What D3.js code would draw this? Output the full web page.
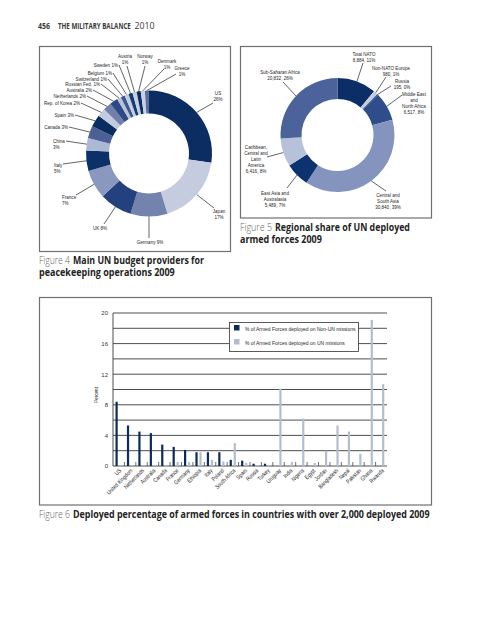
<!DOCTYPE html>
<html><head><meta charset="utf-8">
<script src="https://cdn.jsdelivr.net/npm/d3@7"></script>
<style>body{margin:0;background:#fff}</style>
</head><body><svg id="c" width="486" height="640"></svg>
<script>
// ---------- DATA ----------
const budgetCountries = ["US","Japan","Germany","UK","France","Italy","China","Canada","Spain","Rep. of Korea","Netherlands","Australia","Russian Fed.","Switzerland","Belgium","Sweden","Austria","Norway","Denmark","Greece"];
const budgetShares = [26,17,9,8,7,5,3,3,3,2,2,2,1,1,1,1,1,1,1,1];

const regionNames = [["Total NATO"],["Non-NATO Europe"],["Russia"],["Middle East","and","North Africa"],["Central and","South Asia"],["East Asia and","Australasia"],["Caribbean,","Central and","Latin","America"],["Sub-Saharan Africa"]];
const regionTroops = [8884,980,195,6517,30840,5489,6416,20832];
const regionShares = [11,1,0,8,39,7,8,26];

const countries = ["US","United Kingdom","Netherlands","Australia","Canada","France","Germany","Ethiopia","Italy","Poland","South Africa","Spain","Russia","Turkey","Uruguay","India","Nigeria","Egypt","Jordan","Bangladesh","Nepal","Pakistan","Ghana","Rwanda"];
const nonUN = [8.4,5.3,4.5,4.3,2.8,2.5,2.1,1.8,1.8,1.8,0.8,0.7,0.3,0.3,0,0,0,0,0,0,0,0,0,0];
const onUN  = [0.1,0.1,0.1,0.1,0.1,0.5,0.5,1.8,0.8,0.6,3.0,0.4,0.1,0.1,10.1,0.5,6.2,0.4,2.0,5.3,4.5,1.6,19.1,10.7];
const yTicks = [0,4,8,12,16,20];
const seriesNames = ["% of Armed Forces deployed on Non-UN missions","% of Armed Forces deployed on UN missions"];

// ---------- STYLE / LAYOUT ----------
const NARROW = "'Liberation Sans Narrow','Arial Narrow','Liberation Sans',sans-serif";
const SQUEEZE = 0.8;
const CAP = "'Open Sans','Lato',sans-serif";
const fig4Colors = ["#0b2d62","#c5cce0","#7383ad","#23427d","#8a97bf","#0c3068","#adb8d4","#4c6096","#0b2c61","#c3cbdf","#6f80aa","#2e4a84","#b9c2da","#3d5890","#c5cce0","#143a74","#c8cfe2","#0b2d62","#c9d0e3","#5a6ea2"];
const fig5Colors = ["#0b2e66","#c6cde1","#1d3c78","#2f4d8a","#8594be","#0c3270","#b7c1da","#4b629a"];
const seriesColors = ["#0b2b5c","#b4bccf"];
// label layout: x,y,anchor,split,lineStartX,lineStartY
const fig4Layout = [
 [218,95,"middle",true,213,103],[219,213,"middle",true,214,208],[150,244,"middle",false,149,238],
 [100,230,"middle",false,104,224],[62,199,"start",true,76,195],[54,167,"start",true,63,164],
 [53,143,"start",true,66,141],[68,129,"end",false,69,127],[74,117,"end",false,75,115],
 [80,105,"end",false,81,103],[86,98,"end",false,87,96],[92,92,"end",false,93,90],
 [100,86,"end",false,101,84],[107,81,"end",false,108,79],[112,75,"end",false,113,73],
 [118,67,"end",false,119,65],[125,58,"middle",true,127,66],[145,58,"middle",true,145,66],
 [167,63,"middle",true,164,69],[182,70,"middle",true,176,74]];
const fig5Layout = [
 [364,56,"middle",363,63],[391,70,"middle",386,77],[402,83,"middle",391,86],
 [414,96,"middle",402,95],[388,197,"middle",386,191],[275,195,"middle",287,188],
 [256,149,"middle",267,157],[280,74,"middle",283,82]];

const svg = d3.select("#c");

// narrow text helper (horizontal squeeze emulating a condensed face)
function ntext(parent,x,y,lines,anchor,lh,size,rot){
  const g = parent.append("g").attr("transform",`translate(${x},${y})${rot?` rotate(${rot})`:""} scale(${SQUEEZE},1)`);
  const t = g.append("text").attr("font-family",NARROW).attr("font-size",size).attr("fill","#262626").attr("text-anchor",anchor);
  lines.forEach((s,k)=>t.append("tspan").attr("x",0).attr("y",k*lh).text(s));
  return g;
}
// text fitted to a target width by horizontal scaling
function fitText(x,y,str,width,size,weight,fill){
  const g = svg.append("g");
  const t = g.append("text").attr("font-family",CAP).attr("font-size",size).attr("font-weight",weight).attr("fill",fill).text(str);
  const w = t.node().getComputedTextLength();
  g.attr("transform",`translate(${x},${y}) scale(${width/w},1)`);
}

// ---------- HEADER ----------
fitText(38,29,"456",12,8.5,700,"#3a3a3a");
fitText(58,29,"THE MILITARY BALANCE",73,8.5,700,"#3a3a3a");
fitText(134.5,29,"2010",20,8.5,400,"#3a3a3a");

function boxRect(x,y,w,h){
  svg.append("rect").attr("x",x).attr("y",y).attr("width",w).attr("height",h)
    .attr("fill","none").attr("stroke","#707070").attr("stroke-width",1.2);
}

// ---------- FIGURE 4 ----------
boxRect(39.5,46.5,191,205);
const pie = d3.pie().sort(null).value(d=>d);
const a4 = pie(budgetShares);
const c4 = [149,153.5], R4=63, r4=40;
const arc4 = d3.arc().innerRadius(r4).outerRadius(R4);
const edge4 = d3.arc().innerRadius(R4).outerRadius(R4);
const g4 = svg.append("g").attr("transform",`translate(${c4})`);
g4.selectAll("path").data(a4).join("path").attr("d",arc4).attr("fill",(d,i)=>fig4Colors[i]);
a4.forEach((d,i)=>{
  const L = fig4Layout[i]; const e = edge4.centroid(d);
  svg.append("line").attr("x1",L[4]).attr("y1",L[5]).attr("x2",c4[0]+e[0]).attr("y2",c4[1]+e[1])
    .attr("stroke","#222").attr("stroke-width",0.7);
  const lines = L[3] ? [budgetCountries[i], budgetShares[i]+"%"] : [budgetCountries[i]+" "+budgetShares[i]+"%"];
  ntext(svg,L[0],L[1],lines,L[2],6.5,5.7);
});
fitText(39,264,"Figure 4",31,11,300,"#666");
fitText(73,264,"Main UN budget providers for",131,11,700,"#222");
fitText(39,276,"peacekeeping operations 2009",136,11,700,"#222");

// ---------- FIGURE 5 ----------
boxRect(240.5,46.5,191,171.5);
const a5 = pie(regionTroops);
const c5=[337.5,135], R5=57, r5=36;
const arc5 = d3.arc().innerRadius(r5).outerRadius(R5);
const edge5 = d3.arc().innerRadius(R5).outerRadius(R5);
const g5 = svg.append("g").attr("transform",`translate(${c5})`);
g5.selectAll("path").data(a5).join("path").attr("d",arc5).attr("fill",(d,i)=>fig5Colors[i]);
const fmt = d3.format(",");
a5.forEach((d,i)=>{
  const L = fig5Layout[i]; const e = edge5.centroid(d);
  svg.append("line").attr("x1",L[3]).attr("y1",L[4]).attr("x2",c5[0]+e[0]).attr("y2",c5[1]+e[1])
    .attr("stroke","#222").attr("stroke-width",0.7);
  const lines = regionNames[i].concat([fmt(regionTroops[i])+", "+regionShares[i]+"%"]);
  ntext(svg,L[0],L[1],lines,L[2],6,5.7);
});
fitText(240,231,"Figure 5",32,11,300,"#666");
fitText(275,231,"Regional share of UN deployed",135,11,700,"#222");
fitText(240,243,"armed forces 2009",82,11,700,"#222");

// ---------- FIGURE 6 ----------
boxRect(39.5,297.5,392,207.5);
const y = d3.scaleLinear().domain([0,20]).range([466,313]);
const x0 = d3.scaleBand().domain(countries).range([113,387]);
const x1 = d3.scaleBand().domain([0,1]).range([2.5,8.7]).paddingInner(0.45);
const g6 = svg.append("g");
g6.selectAll("line.grid").data(d3.range(0,21,2)).join("line").attr("class","grid")
  .attr("x1",113).attr("x2",387).attr("y1",d=>y(d)).attr("y2",d=>y(d))
  .attr("stroke","#3a3a3a").attr("stroke-width",0.9);
g6.append("line").attr("x1",113).attr("x2",113).attr("y1",y(20)).attr("y2",y(0)).attr("stroke","#3a3a3a").attr("stroke-width",0.9);
const yAxis = g6.append("g").attr("transform","translate(113,0)")
  .call(d3.axisLeft(y).tickValues(yTicks).tickSize(0).tickPadding(5).tickFormat(d3.format("d")));
yAxis.select(".domain").remove();
yAxis.selectAll("text").attr("font-family",NARROW).attr("font-size",6).attr("fill","#333");
ntext(svg,98,395,["Percent"],"middle",6,5.8,-90);
// bars
[nonUN,onUN].forEach((vals,s)=>{
  g6.selectAll("rect.s"+s).data(vals).join("rect").attr("class","s"+s)
    .attr("x",(d,i)=>x0(countries[i])+x1(s)).attr("width",x1.bandwidth())
    .attr("y",d=>y(d)).attr("height",d=>y(0)-y(d)).attr("fill",seriesColors[s]);
});
// category ticks
g6.selectAll("line.ct").data(countries.slice(1)).join("line").attr("class","ct")
  .attr("x1",d=>x0(d)).attr("x2",d=>x0(d)).attr("y1",y(0)-4).attr("y2",y(0))
  .attr("stroke","#333").attr("stroke-width",0.7);
// x labels
countries.forEach(c=>ntext(g6,x0(c)+x0.bandwidth()/2+3,471,[c],"end",6,6,-45));
// legend
const lg = svg.append("g");
lg.append("rect").attr("x",229.5).attr("y",322.5).attr("width",129).attr("height",29).attr("fill","#fff").attr("stroke","#333").attr("stroke-width",0.8);
seriesNames.forEach((n,i)=>{
  lg.append("rect").attr("x",234).attr("y",325+i*14).attr("width",5.5).attr("height",5.5).attr("fill",seriesColors[i]);
  ntext(lg,245,330.5+i*14,[n],"start",6,6.2);
});
fitText(39,518,"Figure 6",31,10.5,300,"#666");
fitText(73,518,"Deployed percentage of armed forces in countries with over 2,000 deployed 2009",357,10.5,700,"#222");
</script></body></html>
